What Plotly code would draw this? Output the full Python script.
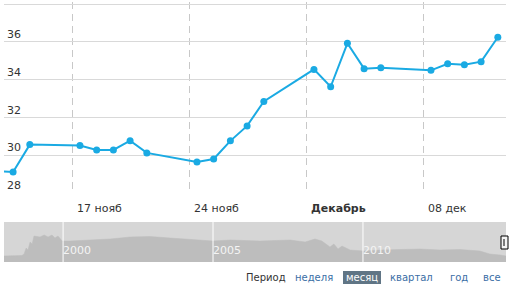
import plotly.graph_objects as go

W, H = 509, 287

# ---- main series (daily closes, Nov-Dec 2014) ----
dates = ["2014-11-12", "2014-11-13", "2014-11-14", "2014-11-17", "2014-11-18", "2014-11-19",
         "2014-11-20", "2014-11-21", "2014-11-24", "2014-11-25", "2014-11-26",
         "2014-11-27", "2014-11-28", "2014-12-01", "2014-12-02", "2014-12-03",
         "2014-12-04", "2014-12-05", "2014-12-08", "2014-12-09", "2014-12-10",
         "2014-12-11", "2014-12-12"]
values = [29.16, 29.11, 30.56, 30.51, 30.28, 30.28, 30.77, 30.12, 29.64, 29.80, 30.76,
          31.55, 32.84, 34.54, 33.62, 35.92, 34.58, 34.63, 34.49, 34.84, 34.79,
          34.95, 36.24]
x_ticks = ["2014-11-17", "2014-11-24", "2014-12-01", "2014-12-08"]
x_tick_labels = ["17 нояб", "24 нояб", "<b>Декабрь</b>", "08 дек"]
y_ticks = [28, 30, 32, 34, 36, 38]
y_tick_labels = ["28", "30", "32", "34", "36", ""]

# ---- navigator (full history) ----
nav_years = [1998.03, 1998.63, 1998.70, 1998.77, 1998.83, 1998.90, 1998.97, 1999.03,
             1999.23, 1999.37, 1999.50, 1999.63, 1999.73, 1999.83, 1999.97, 2000.23,
             2000.90, 2001.57, 2002.23, 2002.90, 2003.57, 2004.23, 2005.00, 2005.57,
             2006.57, 2007.57, 2008.07, 2008.40, 2008.63, 2008.90, 2009.03, 2009.17,
             2009.30, 2009.57, 2010.03, 2010.57, 2011.23, 2011.90, 2012.57, 2013.23,
             2013.90, 2014.23, 2014.57, 2014.77]
nav_values = [6, 6.5, 8, 14, 12, 20, 18, 26, 25, 27, 25, 27, 24, 26, 21, 21,
              22, 23, 25, 25.5, 24, 22.5, 21, 22, 21, 22, 20, 23, 21, 15, 18, 13,
              16, 12, 11, 12, 12.5, 13, 12, 12.5, 11, 8, 7, 6]
nav_ticks = [2000, 2005, 2010]

periods = ["неделя", "месяц", "квартал", "год", "все"]
active_period = "месяц"

x_times = [d + " 11:00" for d in dates]

fig = go.Figure()
fig.add_trace(go.Scatter(
    x=x_times, y=values, mode="lines+markers",
    line=dict(color="#1aaae3", width=2),
    marker=dict(color="#1aaae3", size=7),
    xaxis="x", yaxis="y", hoverinfo="skip", showlegend=False, cliponaxis=True))

fig.add_trace(go.Scatter(
    x=nav_years, y=nav_values, mode="lines", fill="tozeroy",
    line=dict(color="#bdbdbd", width=0.5), fillcolor="#bdbdbd",
    xaxis="x2", yaxis="y2", hoverinfo="skip", showlegend=False))

# white year separators in navigator (drawn above area)
sx, sy = [], []
for t in nav_ticks:
    sx += [t, t, None]
    sy += [0, 40, None]
fig.add_trace(go.Scatter(x=sx, y=sy, mode="lines", line=dict(color="#ffffff", width=1),
                         xaxis="x2", yaxis="y2", hoverinfo="skip", showlegend=False))

px = lambda v: v / W
py = lambda v: 1 - v / H

fig.update_layout(
    width=W, height=H, margin=dict(l=0, r=0, t=0, b=0),
    paper_bgcolor="white", plot_bgcolor="white",
    font=dict(family="DejaVu Sans", size=11, color="#333333"),
    xaxis=dict(domain=[px(4), px(506)], type="date",
               range=["2014-11-12 21:56", "2014-12-12 22:45"],
               tickvals=x_ticks, showticklabels=False, ticks="",
               showgrid=True, gridcolor="#c8c8c8", griddash="7px,5px", gridwidth=1,
               zeroline=False, showline=False, fixedrange=True),
    yaxis=dict(domain=[py(194), py(2)], range=[27.947, 38.106],
               tickvals=y_ticks, ticktext=y_tick_labels,
               ticklabelposition="inside top", ticks="",
               showgrid=True, gridcolor="#d9d9d9", gridwidth=1,
               zeroline=False, showline=False,
               tickfont=dict(size=11, color="#333333")),
    xaxis2=dict(domain=[px(4), px(506)], range=[1998.03, 2014.77], anchor="y2",
                tickvals=nav_ticks, ticklabelposition="inside right", ticks="",
                showgrid=False, zeroline=False, showline=False,
                tickfont=dict(size=11, color="#f4f4f4")),
    yaxis2=dict(domain=[py(262), py(222)], range=[0, 40], anchor="x2",
                showticklabels=False, showgrid=False, zeroline=False, ticks=""),
)

# navigator background
fig.add_shape(type="rect", xref="x2 domain", yref="y2 domain", x0=0, x1=1, y0=0, y1=1,
              fillcolor="#d6d6d6", line_width=0, layer="below")
# navigator handle
fig.add_shape(type="rect", xref="paper", yref="paper", x0=px(501), x1=px(508),
              y0=py(249), y1=py(236), fillcolor="#f4f4f4", line=dict(color="#000000", width=1))
fig.add_shape(type="line", xref="paper", yref="paper", x0=px(504), x1=px(504),
              y0=py(246), y1=py(239), line=dict(color="#000000", width=1))

# x-axis labels (left-aligned to the right of each grid line)
for t, lab in zip(x_ticks, x_tick_labels):
    fig.add_annotation(x=t, y=py(208), xref="x", yref="paper", text=lab, showarrow=False,
                       xanchor="left", yanchor="middle", xshift=4,
                       font=dict(size=11, color="#333333"), borderpad=0)

# period selector
fig.add_annotation(x=px(266), y=py(277.5), xref="paper", yref="paper", text="Период",
                   showarrow=False, xanchor="center", yanchor="middle",
                   font=dict(size=10, color="#333333"))
centers = [313.5, 362, 411.5, 458.5, 492]
for lab, c in zip(periods, centers):
    active = lab == active_period
    if active:
        fig.add_shape(type="rect", xref="paper", yref="paper", x0=px(343), x1=px(381),
                      y0=py(284), y1=py(271), fillcolor="#607585", line_width=0)
    fig.add_annotation(x=px(c), y=py(277.5), xref="paper", yref="paper", text=lab,
                       showarrow=False, xanchor="center", yanchor="middle",
                       font=dict(size=10, color="#ffffff" if active else "#3a6ea5"))

fig.write_html("out.html")
